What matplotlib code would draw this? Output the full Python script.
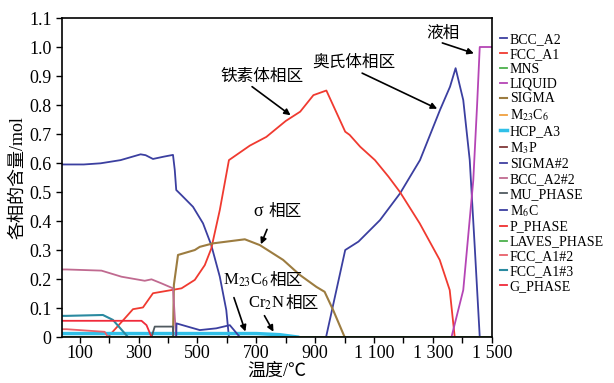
import numpy as np
import matplotlib
matplotlib.use("Agg")
import matplotlib.pyplot as plt

plt.rcParams['font.family'] = ['Liberation Serif', 'Noto Sans CJK SC']
plt.rcParams['mathtext.fontset'] = 'stix'

# phase fractions (temperature in C, amount in mol)
bcc_t = [40, 58, 114, 171, 239, 307, 324, 349, 386, 417, 423, 428, 445, 485, 519, 547, 576, 598, 607,
         937, 1002, 1047, 1120, 1188, 1256, 1324, 1358, 1377, 1403, 1425, 1442, 1459]
bcc_v = [0.595, 0.595, 0.595, 0.599, 0.61, 0.63, 0.627, 0.614, 0.622, 0.628, 0.576, 0.507, 0.49, 0.449,
         0.392, 0.317, 0.208, 0.093, 0.0, 0.0, 0.3, 0.329, 0.403, 0.495, 0.61, 0.783, 0.863, 0.927,
         0.817, 0.61, 0.311, 0.0]

fcc_t = [196, 253, 281, 315, 349, 412, 446, 491, 525, 547, 576, 607, 678, 734, 800, 849, 894, 938,
         1002, 1017, 1053, 1103, 1149, 1188, 1255, 1323, 1357, 1374]
fcc_v = [0.0, 0.064, 0.096, 0.102, 0.151, 0.162, 0.168, 0.197, 0.248, 0.305, 0.438, 0.61, 0.66, 0.69,
         0.745, 0.777, 0.834, 0.85, 0.708, 0.697, 0.656, 0.61, 0.553, 0.5, 0.392, 0.266, 0.162, 0.0]

liq_t = [1363, 1403, 1437, 1450, 1459, 1500]
liq_v = [0.0, 0.162, 0.54, 0.8, 1.0, 1.0]

sigma_t = [417, 420, 434, 491, 508, 553, 661, 712, 791, 848, 904, 932, 961, 1000]
sigma_v = [0.0, 0.18, 0.283, 0.3, 0.311, 0.323, 0.337, 0.317, 0.266, 0.214, 0.173, 0.156, 0.093, 0.0]

bcc2_t = [40, 55, 174, 242, 321, 344, 378, 417, 423, 428]
bcc2_v = [0.233, 0.233, 0.229, 0.208, 0.194, 0.199, 0.185, 0.168, 0.07, 0.0]

fcc3_t = [40, 55, 179, 213, 264]
fcc3_v = [0.073, 0.073, 0.076, 0.059, 0.0]

g_t = [40, 55, 310, 327, 344]
g_v = [0.056, 0.056, 0.056, 0.041, 0.0]

fcc2_t = [40, 55, 185, 196]
fcc2_v = [0.027, 0.027, 0.018, 0.0]

mu_t = [344, 355, 417, 418]
mu_v = [0.0, 0.036, 0.036, 0.0]

m6c_t = [428, 429, 470, 508, 564, 610, 644]
m6c_v = [0.0, 0.047, 0.035, 0.024, 0.03, 0.041, 0.0]

hcp_t = [40, 600, 700, 780, 840]
hcp_v = [0.012, 0.012, 0.012, 0.008, 0.0]

zero_t = [40, 1500]
zero_v = [0.0, 0.0]

x_ticks = [100, 300, 500, 700, 900, 1100, 1300, 1500]
x_labels = ['100', '300', '500', '700', '900', '1 100', '1 300', '1 500']
y_ticks = [0, 0.1, 0.2, 0.3, 0.4, 0.5, 0.6, 0.7, 0.8, 0.9, 1.0, 1.1]
y_labels = ['0'] + ['%.1f' % v for v in y_ticks[1:]]

# (label, color, x, y, linewidth)
series = [
    ('BCC_A2', '#3b3fa0', bcc_t, bcc_v, 1.3),
    ('FCC_A1', '#f03a30', fcc_t, fcc_v, 1.3),
    ('MNS', '#4cb04c', zero_t, zero_v, 1.3),
    ('LIQUID', '#b545b5', liq_t, liq_v, 1.3),
    ('SIGMA', '#9c7c40', sigma_t, sigma_v, 1.5),
    ('M$_{23}$C$_6$', '#f0a040', zero_t, zero_v, 1.3),
    ('HCP_A3', '#30c0e8', hcp_t, hcp_v, 2.5),
    ('M$_3$P', '#803838', zero_t, zero_v, 1.3),
    ('SIGMA#2', '#4040a0', zero_t, zero_v, 1.3),
    ('BCC_A2#2', '#c06a90', bcc2_t, bcc2_v, 1.3),
    ('MU_PHASE', '#505a60', mu_t, mu_v, 1.3),
    ('M$_6$C', '#3b3fa0', m6c_t, m6c_v, 1.3),
    ('P_PHASE', '#f03030', zero_t, zero_v, 1.3),
    ('LAVES_PHASE', '#4cb04c', zero_t, zero_v, 1.3),
    ('FCC_A1#2', '#e8606a', fcc2_t, fcc2_v, 1.3),
    ('FCC_A1#3', '#2a8aa0', fcc3_t, fcc3_v, 1.5),
    ('G_PHASE', '#f02a3a', g_t, g_v, 1.3),
]

fig = plt.figure(figsize=(6.14, 3.83), dpi=100)
ax = fig.add_axes([0.101, 0.12, 0.700, 0.833])

for label, color, xs, ys, lw in series:
    ax.plot(xs, ys, color=color, lw=lw, label=label)

ax.set_xlim(40, 1500)
ax.set_ylim(0, 1.1)
ax.set_xticks(x_ticks)
ax.set_xticklabels(x_labels)
ax.set_xticks(np.arange(200, 1500, 200), minor=True)
ax.set_yticks(y_ticks)
ax.set_yticklabels(y_labels)
ax.tick_params(axis='both', which='both', direction='out', labelsize=13, length=4, width=1)
ax.tick_params(axis='x', pad=2)
for sp in ax.spines.values():
    sp.set_linewidth(1.2)

ax.set_xlabel('温度/℃', fontsize=13, labelpad=0)
ax.set_ylabel('各相的含量/mol', fontsize=13, labelpad=2)

ax.legend(loc='upper left', bbox_to_anchor=(1.0, 0.98), frameon=False, fontsize=10,
          handlelength=0.5, handletextpad=0.2, labelspacing=0.14, borderaxespad=0.2)

# phase region annotations
arrow = dict(arrowstyle='-|>', color='black', lw=1.2, mutation_scale=9)
cjk = ['Noto Sans CJK SC', 'DejaVu Sans']
ax.text(718, 0.897, '铁素体相区', fontsize=12, family=cjk, ha='center', va='center')
ax.annotate('', xy=(824, 0.759), xytext=(678, 0.869), arrowprops=arrow)
ax.text(1031, 0.948, '奥氏体相区', fontsize=12, family=cjk, ha='center', va='center')
ax.annotate('', xy=(1323, 0.783), xytext=(1051, 0.914), arrowprops=arrow)
ax.text(1335, 1.048, '液相', fontsize=12, family=cjk, ha='center', va='center')
ax.annotate('', xy=(1448, 0.975), xytext=(1323, 1.017), arrowprops=arrow)

t = ax.text(740, 0.417, 'σ ', fontsize=13, ha='right', va='baseline')
ax.annotate('相区', xy=(1, 0), xycoords=t, fontsize=12, family=cjk, ha='left', va='bottom')
ax.annotate('', xy=(712, 0.311), xytext=(740, 0.38), arrowprops=arrow)

t = ax.text(588, 0.18, 'M$_{23}$C$_6$', fontsize=12, ha='left', va='baseline')
ax.annotate('相区', xy=(1, 0), xycoords=t, fontsize=12, family=cjk, ha='left', va='bottom')
ax.annotate('', xy=(666, 0.01), xytext=(621, 0.145), arrowprops=arrow)

t = ax.text(672, 0.103, 'Cr$_2$N', fontsize=12, ha='left', va='baseline')
ax.annotate('相区', xy=(1, 0), xycoords=t, fontsize=12, family=cjk, ha='left', va='bottom')
ax.annotate('', xy=(763, 0.01), xytext=(723, 0.082), arrowprops=arrow)

fig.savefig('out.png', dpi=100)
